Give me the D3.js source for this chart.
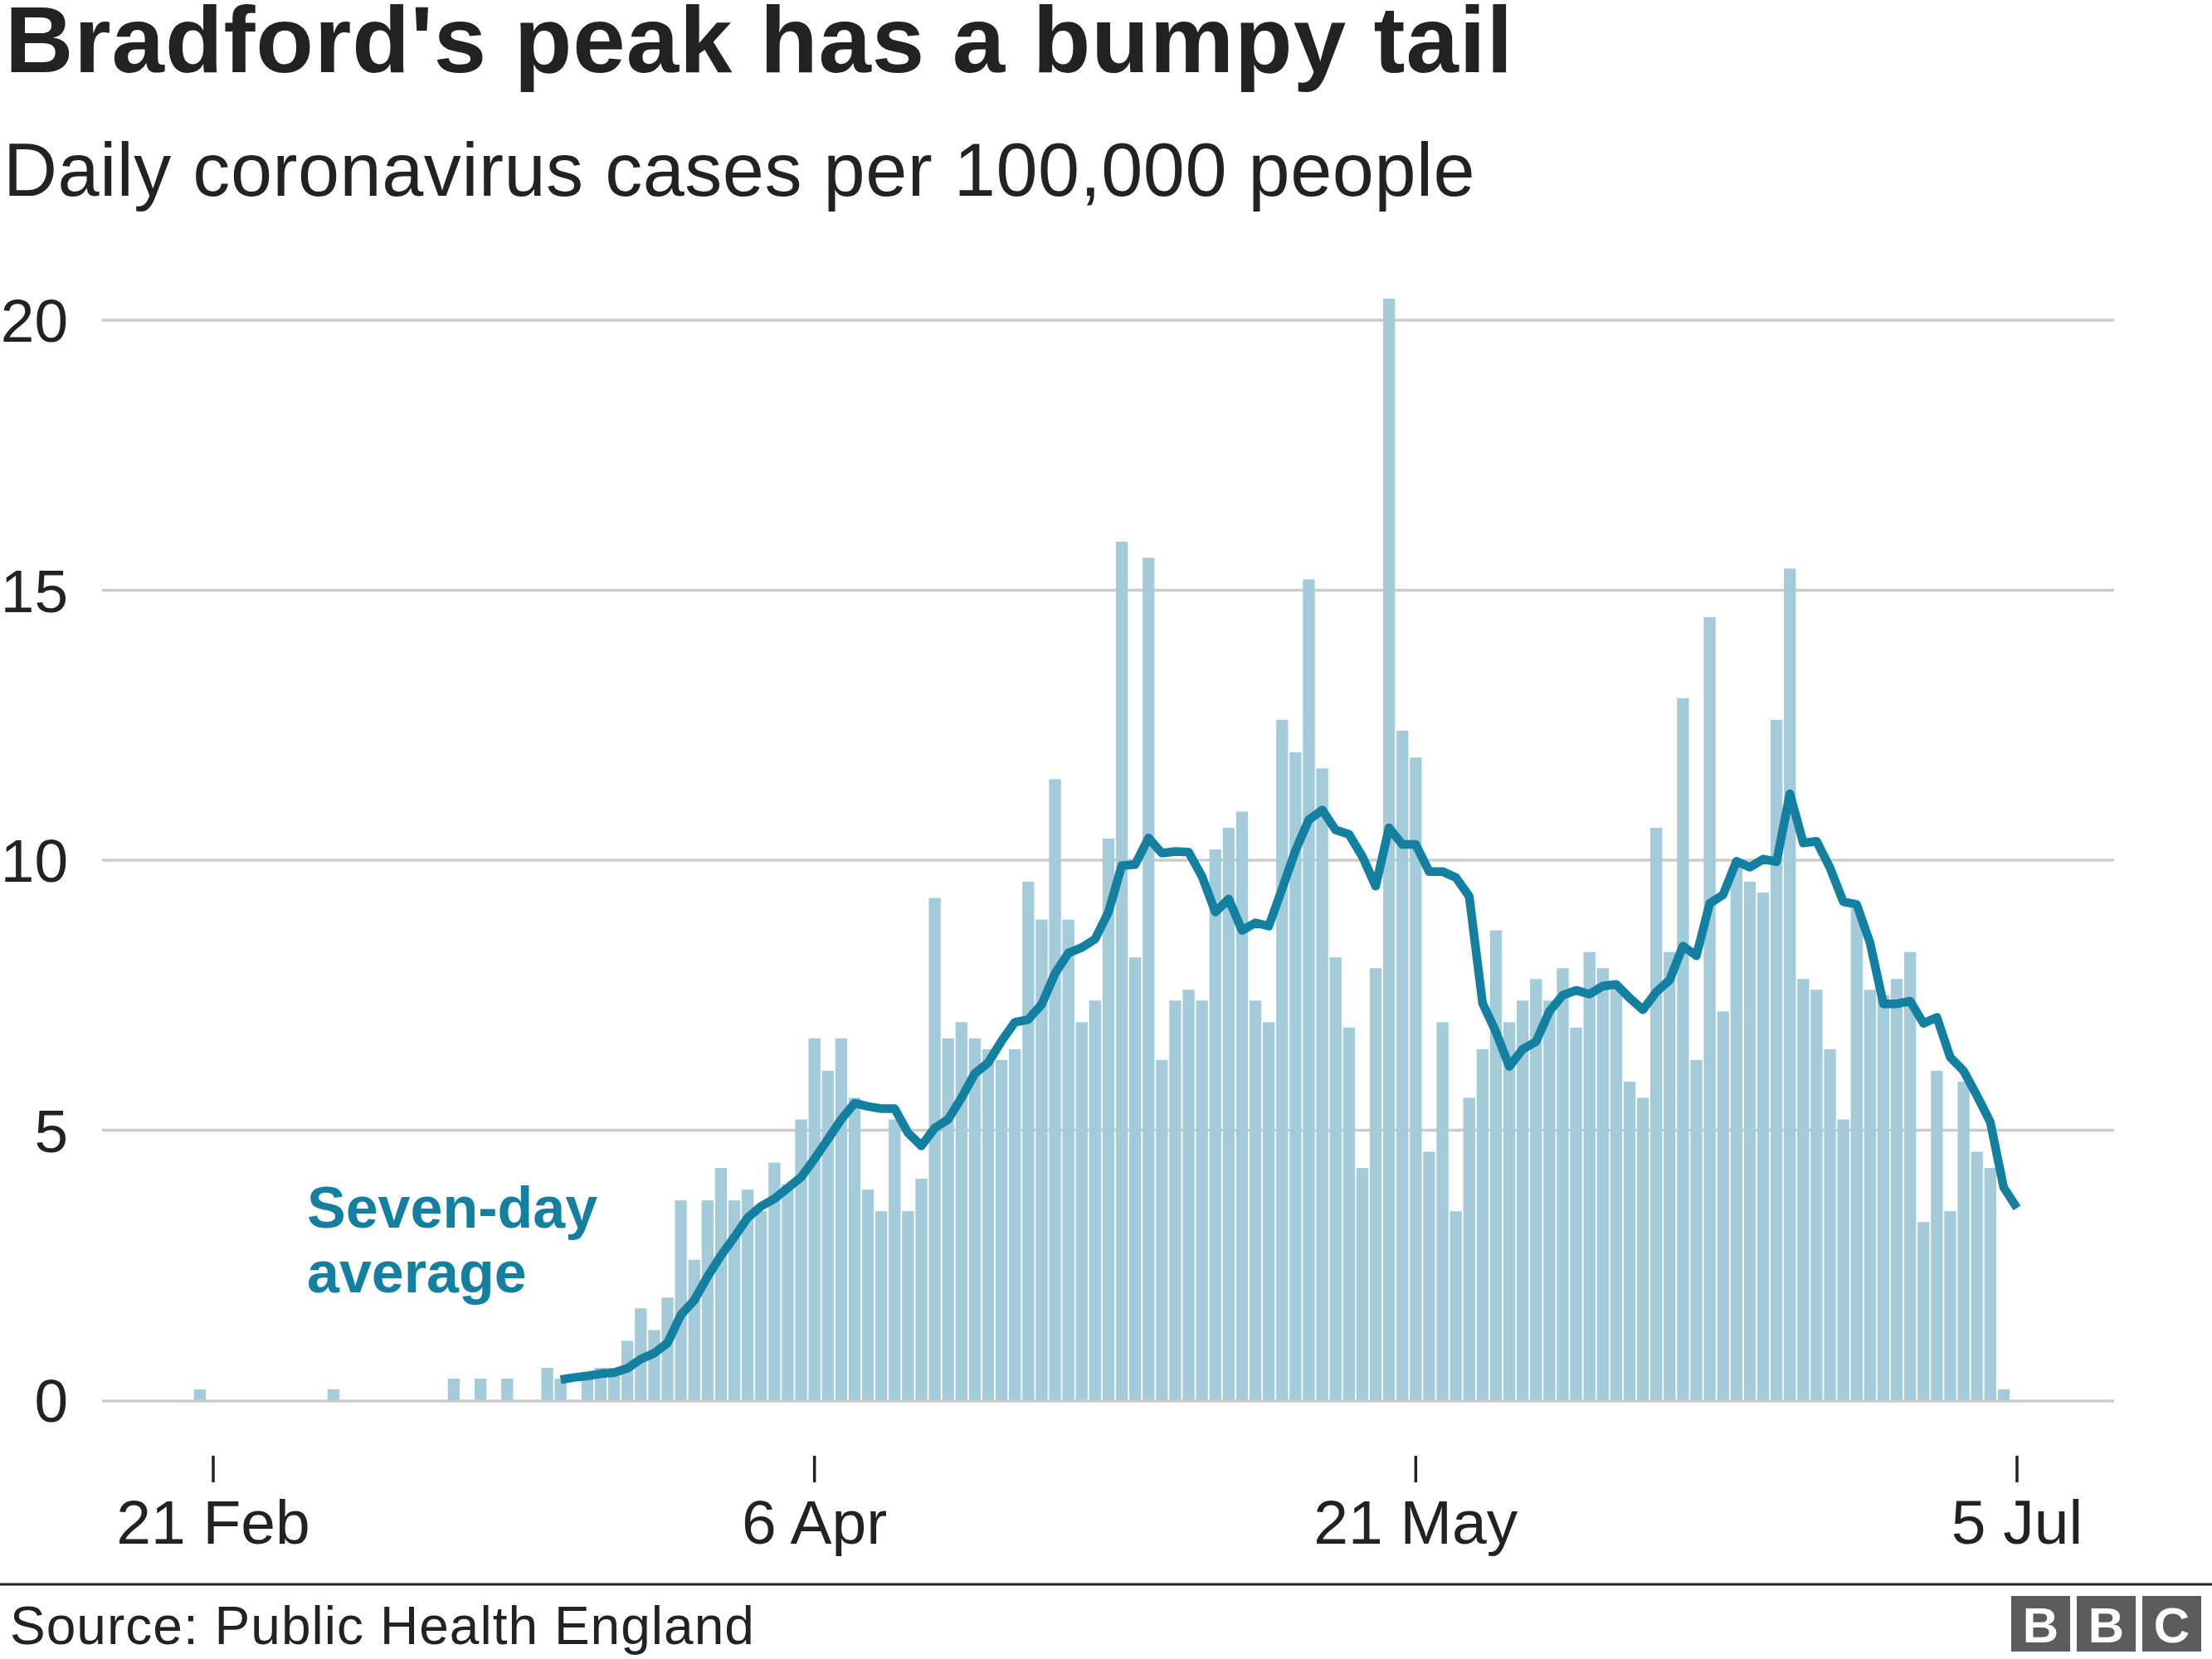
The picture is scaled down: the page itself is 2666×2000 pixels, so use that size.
<!DOCTYPE html>
<html><head><meta charset="utf-8">
<script src="https://cdn.jsdelivr.net/npm/d3@7"></script>
<style>
body{margin:0;background:#fff;}
svg{display:block;}
text{font-family:"Liberation Sans", Arial, Helvetica, sans-serif;}
</style></head><body>
<svg id="chart" width="2666" height="2000"></svg>
<script>
// ---- data ----
const barStart = "2020-02-20";
const dailyCases = [
  0.2, 0,0,0,0,0,0,0,0,0, 0.2, 0,0,0,0,0,0,0,0,
  0.4, 0, 0.4, 0, 0.4, 0, 0, 0.6, 0.4, 0, 0.4, 0.6, 0.6, 1.1, 1.7, 1.3, 1.9,
  3.7, 2.6, 3.7, 4.3, 3.7, 3.9, 3.5, 4.4, 4.0, 5.2, 6.7, 6.1, 6.7, 5.6,
  3.9, 3.5, 5.2, 3.5, 4.1, 9.3, 6.7, 7.0, 6.7, 6.5, 6.3, 6.5, 9.6, 8.9,
  11.5, 8.9, 7.0, 7.4, 10.4, 15.9, 8.2, 15.6, 6.3, 7.4, 7.6, 7.4, 10.2, 10.6,
  10.9, 7.4, 7.0, 12.6, 12.0, 15.2, 11.7, 8.2, 6.9, 4.3, 8.0, 20.4, 12.4, 11.9,
  4.6, 7.0, 3.5, 5.6, 6.5, 8.7, 7.0, 7.4, 7.8, 7.4, 8.0, 6.9, 8.3, 8.0,
  7.6, 5.9, 5.6, 10.6, 8.3, 13.0, 6.3, 14.5, 7.2, 9.9, 9.6, 9.4, 12.6, 15.4,
  7.8, 7.6, 6.5, 5.2, 9.1, 7.6, 7.5, 7.8, 8.3, 3.3, 6.1, 3.5, 5.9, 4.6, 4.3, 0.2
];
const avgStart = "2020-03-18";
const sevenDayAvg = [
  0.38, 0.42, 0.45, 0.49, 0.51, 0.59, 0.76, 0.87, 1.06, 1.58, 1.85, 2.29, 2.68,
  3.02, 3.38, 3.59, 3.73, 3.93, 4.13, 4.47, 4.83, 5.20, 5.50, 5.44, 5.40, 5.40,
  4.95, 4.71, 5.04, 5.20, 5.60, 6.05, 6.25, 6.65, 7.00, 7.05, 7.33, 7.90, 8.28,
  8.38, 8.54, 9.04, 9.90, 9.92, 10.41, 10.13, 10.16, 10.15, 9.70, 9.04, 9.28,
  8.70, 8.84, 8.78, 9.47, 10.18, 10.75, 10.93, 10.56, 10.48, 10.07, 9.52, 10.60,
  10.29, 10.29, 9.79, 9.79, 9.68, 9.33, 7.35, 6.82, 6.18, 6.50, 6.64, 7.20, 7.50,
  7.59, 7.52, 7.67, 7.70, 7.45, 7.23, 7.56, 7.78, 8.41, 8.23, 9.20, 9.36, 9.98,
  9.87, 10.02, 9.97, 11.23, 10.32, 10.35, 9.86, 9.23, 9.18, 8.47, 7.34, 7.34,
  7.39, 6.98, 7.09, 6.35, 6.10, 5.64, 5.15, 3.94, 3.56
];
const yTicks = [0, 5, 10, 15, 20];
const xTickDates = ["2020-02-21", "2020-04-06", "2020-05-21", "2020-07-05"];
const xTickLabels = ["21 Feb", "6 Apr", "21 May", "5 Jul"];

// ---- setup ----
const parse = d3.utcParse("%Y-%m-%d");
const barData = dailyCases.map((v, i) => ({date: d3.utcDay.offset(parse(barStart), i), v}));
const avgData = sevenDayAvg.map((v, i) => ({date: d3.utcDay.offset(parse(avgStart), i), v}));

const svg = d3.select("#chart");
const x = d3.scaleUtc().domain([parse("2020-02-21"), parse("2020-07-05")]).range([257, 2431]);
const y = d3.scaleLinear().domain([0, 20]).range([1688, 386]);
const dayW = x(parse("2020-02-22")) - x(parse("2020-02-21"));
const barW = dayW * 0.89;
const gridX1 = 123, gridX2 = 2548;

const TXT = "#222222";
const BAR = "#a3cbd9";
const LINE = "#1380a1";

function fitWidth(sel, target) {
  const w = sel.node().getComputedTextLength();
  const n = sel.text().length;
  sel.attr("letter-spacing", ((target - w) / n).toFixed(2));
}

// title & subtitle
const title = svg.append("text").attr("x", 6).attr("y", 87)
  .attr("font-size", 114).attr("font-weight", "bold").attr("fill", TXT)
  .text("Bradford's peak has a bumpy tail");
fitWidth(title, 1818);
const sub = svg.append("text").attr("x", 4).attr("y", 236)
  .attr("font-size", 90).attr("fill", TXT)
  .text("Daily coronavirus cases per 100,000 people");
fitWidth(sub, 1774);

// gridlines
svg.append("g").selectAll("line").data(yTicks.filter(t => t > 0)).join("line")
  .attr("x1", gridX1).attr("x2", gridX2)
  .attr("y1", d => y(d)).attr("y2", d => y(d))
  .attr("stroke", "#cccccc").attr("stroke-width", 3.4);

// y labels
svg.append("g").selectAll("text").data(yTicks).join("text")
  .attr("x", 82).attr("y", d => y(d) + 26)
  .attr("text-anchor", "end").attr("font-size", 73).attr("fill", TXT)
  .text(d => d);

// bars
svg.append("g").selectAll("rect").data(barData.filter(d => d.v > 0)).join("rect")
  .attr("x", d => x(d.date) - barW / 2).attr("width", barW)
  .attr("y", d => y(d.v)).attr("height", d => y(0) - y(d.v))
  .attr("fill", BAR);

// zero line
svg.append("line").attr("x1", gridX1).attr("x2", gridX2)
  .attr("y1", y(0) + 1).attr("y2", y(0) + 1)
  .attr("stroke", "#cccccc").attr("stroke-width", 3.4);

// seven-day average line
svg.append("path").datum(avgData)
  .attr("d", d3.line().x(d => x(d.date)).y(d => y(d.v)))
  .attr("fill", "none").attr("stroke", LINE).attr("stroke-width", 10.5)
  .attr("stroke-linejoin", "round");

// label
const lab = svg.append("text").attr("font-size", 70).attr("font-weight", "bold").attr("fill", LINE);
lab.append("tspan").attr("x", 370).attr("y", 1480).text("Seven-day");
lab.append("tspan").attr("x", 370).attr("y", 1558).text("average");

// x axis ticks
const xt = svg.append("g");
xt.selectAll("line").data(xTickDates).join("line")
  .attr("x1", d => x(parse(d))).attr("x2", d => x(parse(d)))
  .attr("y1", 1755).attr("y2", 1787)
  .attr("stroke", TXT).attr("stroke-width", 3.5);
xt.selectAll("text").data(xTickDates).join("text")
  .attr("x", d => x(parse(d))).attr("y", 1861)
  .attr("text-anchor", "middle").attr("font-size", 75).attr("fill", TXT)
  .text((d, i) => xTickLabels[i]);

// footer
svg.append("line").attr("x1", 0).attr("x2", 2666).attr("y1", 1910).attr("y2", 1910)
  .attr("stroke", "#222").attr("stroke-width", 3);
const src = svg.append("text").attr("x", 12).attr("y", 1982)
  .attr("font-size", 64).attr("fill", TXT).text("Source: Public Health England");
fitWidth(src, 898);

const bbc = svg.append("g");
["B", "B", "C"].forEach((L, i) => {
  const bx = 2424 + i * 79;
  bbc.append("rect").attr("x", bx).attr("y", 1924).attr("width", 71).attr("height", 67).attr("fill", "#5c5c5c");
  bbc.append("text").attr("x", bx + 35.5).attr("y", 1980).attr("text-anchor", "middle")
    .attr("font-size", 60).attr("font-weight", "bold").attr("fill", "#fff").text(L);
});
</script>
</body></html>
